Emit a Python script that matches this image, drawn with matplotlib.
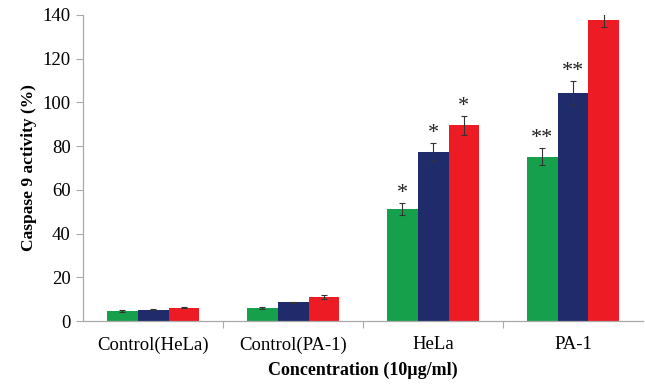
import numpy as np
import matplotlib
matplotlib.use('Agg')
import matplotlib.pyplot as plt

plt.rcParams['font.family'] = ['Liberation Serif', 'DejaVu Serif']

categories = ['Control(HeLa)', 'Control(PA-1)', 'HeLa', 'PA-1']
green_vals = [4.6, 6.1, 51.4, 75.2]
blue_vals = [5.2, 8.6, 77.4, 104.3]
red_vals = [6.1, 11.1, 89.6, 137.5]
green_err = [0.3, 0.5, 2.7, 3.8]
blue_err = [0.2, 0.2, 4.0, 5.7]
red_err = [0.3, 0.8, 4.3, 3.0]
green_marks = ['', '', '*', '**']
blue_marks = ['', '', '*', '**']
red_marks = ['', '', '*', '']

colors = ['#16a04b', '#1f2b6b', '#ed1c24']
w = 0.22
x = np.arange(len(categories))

fig = plt.figure(figsize=(6.45, 3.84), dpi=100)
ax = fig.add_axes([0.129, 0.164, 0.868, 0.797])

series = [(green_vals, green_err, green_marks),
          (blue_vals, blue_err, blue_marks),
          (red_vals, red_err, red_marks)]
for i, (vals, errs, marks) in enumerate(series):
    xs = x + (i - 1) * w
    ax.bar(xs, vals, w, color=colors[i], zorder=2)
    ax.errorbar(xs, vals, yerr=errs, fmt='none', ecolor='#333333',
                elinewidth=0.8, capsize=2.5, capthick=0.8, zorder=3)
    for xi, v, e, m in zip(xs, vals, errs, marks):
        if m:
            ax.annotate(m, (xi, v + e), xytext=(0, 0), textcoords='offset points',
                        ha='center', va='bottom', fontsize=16, color='#222222')

ax.set_xlim(-0.5, 3.5)
ax.set_ylim(0, 140)
ax.set_yticks(range(0, 141, 20))
ax.set_xticks(x)
ax.set_xticklabels(categories)
ax.set_xticks(np.arange(0.5, 3.0, 1.0), minor=True)
ax.tick_params(axis='x', which='major', length=0, pad=11, labelsize=13.5)
ax.tick_params(axis='x', which='minor', length=5, color='#aaaaaa', width=0.8)
ax.tick_params(axis='y', length=5, color='#aaaaaa', width=0.8, labelsize=13.5, pad=4)

for s in ['top', 'right']:
    ax.spines[s].set_visible(False)
for s in ['left', 'bottom']:
    ax.spines[s].set_color('#aaaaaa')
    ax.spines[s].set_linewidth(0.9)

ax.set_ylabel('Caspase 9 activity (%)', fontsize=12.5, fontweight='bold', labelpad=4)
ax.set_xlabel('Concentration (10µg/ml)', fontsize=13, fontweight='bold', labelpad=6)

plt.savefig('out.png', dpi=100)
